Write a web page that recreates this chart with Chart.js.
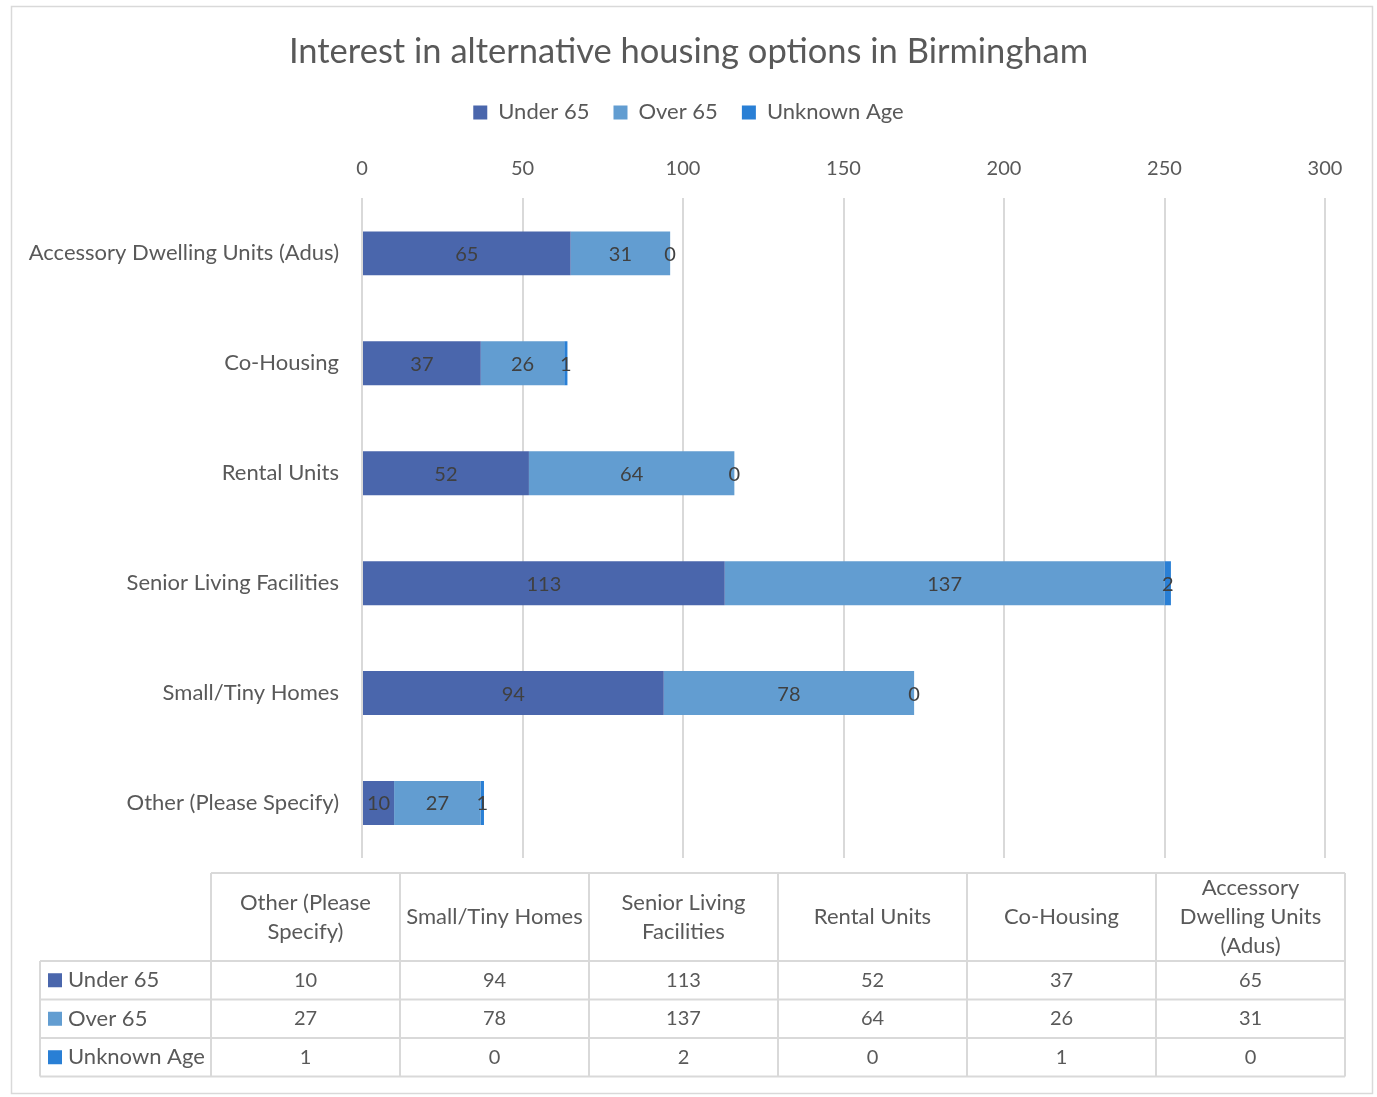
<!DOCTYPE html>
<html lang="en">
<head>
    <meta charset="UTF-8">
    <title>Interest in alternative housing options in Birmingham</title>
    <script src="https://cdn.jsdelivr.net/npm/chart.js@4.4.0/dist/chart.umd.min.js"></script>
    <style>
        body { margin: 0; background: #fff; }
        #wrap { width: 1377px; height: 1097px; position: relative; }
    </style>
</head>
<body>
    <div id="wrap"><canvas id="paint"></canvas></div>
    <script>
        // data, in the order Excel stores it (first category is drawn at the bottom)
        var categories = ["Other (Please Specify)", "Small/Tiny Homes", "Senior Living Facilities", "Rental Units", "Co-Housing", "Accessory Dwelling Units (Adus)"]
        var under65 = [10, 94, 113, 52, 37, 65]
        var over65 = [27, 78, 137, 64, 26, 31]
        var unknownAge = [1, 0, 2, 0, 1, 0]
        var seriesNames = ["Under 65", "Over 65", "Unknown Age"]
        var seriesColors = ["#4A66AC", "#629DD1", "#297FD5"]
        var xMax = 300
        var xStep = 50

        var FONT = "Lato"
        var TEXT = "#595959"
        var LINE = "#d9d9d9"

        // values printed in the middle of each segment
        var segLabels = {
            id: "segLabels",
            afterDatasetsDraw: function (chart) {
                var ctx = chart.ctx
                ctx.save()
                ctx.font = "20px " + FONT
                ctx.fillStyle = "#404040"
                ctx.textAlign = "center"
                ctx.textBaseline = "middle"
                chart.data.datasets.forEach(function (ds, i) {
                    chart.getDatasetMeta(i).data.forEach(function (bar, j) {
                        ctx.fillText(ds.data[j], (bar.x + bar.base) / 2, bar.y + 1)
                    })
                })
                ctx.restore()
            }
        }

        // outer frame of the chart
        var frame = {
            id: "frame",
            beforeDraw: function (chart) {
                var ctx = chart.ctx
                ctx.save()
                ctx.strokeStyle = LINE
                ctx.lineWidth = 1.5
                ctx.strokeRect(11.5, 6.5, 1361, 1087)
                ctx.restore()
            }
        }

        function wrapText(ctx, text, maxW) {
            var words = text.split(" "), lines = [], cur = ""
            words.forEach(function (w) {
                var t = cur ? cur + " " + w : w
                if (ctx.measureText(t).width > maxW && cur) { lines.push(cur); cur = w } else cur = t
            })
            lines.push(cur)
            return lines
        }

        // data table under the plot
        var dataTable = {
            id: "dataTable",
            afterDraw: function (chart) {
                var ctx = chart.ctx
                var left = 40, keyW = 171, colW = 189, top = 873, headH = 88, rowH = 38.5
                var tableR = left + keyW + colW * categories.length
                var bottom = top + headH + rowH * seriesNames.length
                ctx.save()
                ctx.strokeStyle = LINE
                ctx.lineWidth = 2
                ctx.beginPath()
                // horizontal lines
                ctx.moveTo(left + keyW, top); ctx.lineTo(tableR, top)
                for (var r = 0; r <= seriesNames.length; r++) {
                    var y = top + headH + rowH * r
                    ctx.moveTo(left, y); ctx.lineTo(tableR, y)
                }
                // vertical lines
                ctx.moveTo(left, top + headH); ctx.lineTo(left, bottom)
                for (var c = 0; c <= categories.length; c++) {
                    var x = left + keyW + colW * c
                    ctx.moveTo(x, top); ctx.lineTo(x, bottom)
                }
                ctx.stroke()

                ctx.font = "22px " + FONT
                ctx.fillStyle = TEXT
                ctx.textAlign = "center"
                ctx.textBaseline = "middle"
                categories.forEach(function (cat, c) {
                    var cx = left + keyW + colW * c + colW / 2
                    var lines = wrapText(ctx, cat, colW - 9)
                    var lh = 29
                    var y0 = top + headH / 2 - (lines.length - 1) * lh / 2
                    lines.forEach(function (l, k) { ctx.fillText(l, cx, y0 + k * lh) })
                })
                var series = [under65, over65, unknownAge]
                series.forEach(function (vals, r) {
                    var cy = top + headH + rowH * r + rowH / 2
                    ctx.fillStyle = seriesColors[r]
                    ctx.fillRect(48, cy - 7, 14, 14)
                    ctx.fillStyle = TEXT
                    ctx.textAlign = "left"
                    ctx.font = "22px " + FONT
                    ctx.fillText(seriesNames[r], 68, cy)
                    ctx.textAlign = "center"
                    ctx.font = "20px " + FONT
                    vals.forEach(function (v, c) {
                        ctx.fillText(v, left + keyW + colW * c + colW / 2, cy)
                    })
                })
                ctx.restore()
            }
        }

        var ctx = document.getElementById("paint").getContext("2d")
        var chart = new Chart(ctx, {
            type: "bar",
            data: {
                labels: categories,
                datasets: [
                    { label: seriesNames[0], data: under65, backgroundColor: seriesColors[0] },
                    { label: seriesNames[1], data: over65, backgroundColor: seriesColors[1] },
                    { label: seriesNames[2], data: unknownAge, backgroundColor: seriesColors[2] }
                ]
            },
            options: {
                indexAxis: "y",
                responsive: true,
                maintainAspectRatio: false,
                animation: false,
                barPercentage: 0.4,
                categoryPercentage: 1.0,
                layout: { padding: { top: 0, right: 0, bottom: 239, left: 0 } },
                scales: {
                    x: {
                        position: "top",
                        stacked: true,
                        min: 0,
                        max: xMax,
                        ticks: { stepSize: xStep, color: TEXT, font: { family: FONT, size: 20 }, padding: 18 },
                        grid: { color: LINE, lineWidth: 2, drawTicks: false },
                        border: { display: false },
                        afterFit: function (s) { s.height = 65 }
                    },
                    y: {
                        stacked: true,
                        reverse: true,
                        ticks: { color: TEXT, font: { family: FONT, size: 22 }, padding: 15 },
                        grid: { display: false },
                        border: { display: false },
                        afterFit: function (s) { s.width = 362 }
                    },
                    // empty axis on the right, keeps the plot symmetric under the title
                    yRight: {
                        type: "category",
                        position: "right",
                        labels: categories,
                        ticks: { display: false },
                        grid: { display: false },
                        border: { display: false },
                        afterFit: function (s) { s.width = 52 }
                    }
                },
                plugins: {
                    title: {
                        display: true,
                        text: "Interest in alternative housing options in Birmingham",
                        color: TEXT,
                        font: { family: FONT, size: 34.5, weight: "normal" },
                        padding: { top: 31, bottom: 5 }
                    },
                    legend: {
                        position: "top",
                        labels: { color: TEXT, font: { family: FONT, size: 22 }, boxWidth: 14, boxHeight: 14, padding: 24 }
                    },
                    tooltip: { enabled: false }
                }
            },
            plugins: [frame, segLabels, dataTable]
        })
    </script>
</body>
</html>
